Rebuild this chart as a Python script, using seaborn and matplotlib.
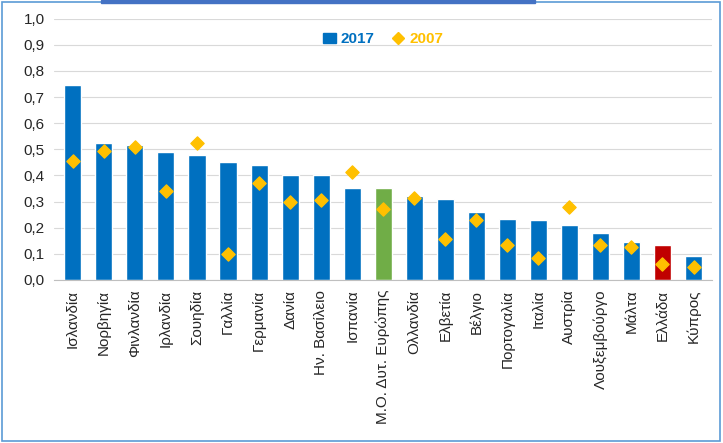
import matplotlib
matplotlib.use("Agg")
import matplotlib.pyplot as plt
import seaborn as sns
import pandas as pd
from matplotlib.patches import Rectangle, Patch
from matplotlib.lines import Line2D

countries = ["Ισλανδία", "Νορβηγία", "Φινλανδία", "Ιρλανδία", "Σουηδία", "Γαλλία",
             "Γερμανία", "Δανία", "Ην. Βασίλειο", "Ισπανία", "Μ.Ο. Δυτ. Ευρώπης",
             "Ολλανδία", "Ελβετία", "Βέλγιο", "Πορτογαλία", "Ιταλία", "Αυστρία",
             "Λουξεμβούργο", "Μάλτα", "Ελλάδα", "Κύπρος"]
v2017 = [0.745, 0.525, 0.515, 0.49, 0.48, 0.45, 0.44, 0.40, 0.40, 0.35, 0.35,
         0.32, 0.31, 0.26, 0.235, 0.23, 0.21, 0.18, 0.145, 0.135, 0.09]
v2007 = [0.455, 0.495, 0.51, 0.34, 0.525, 0.10, 0.37, 0.30, 0.305, 0.415, 0.27,
         0.315, 0.155, 0.23, 0.135, 0.085, 0.28, 0.135, 0.125, 0.06, 0.05]

df = pd.DataFrame({"country": countries, "2017": v2017, "2007": v2007})
colors = ["#0070C0"] * len(countries)
colors[countries.index("Μ.Ο. Δυτ. Ευρώπης")] = "#70AD47"
colors[countries.index("Ελλάδα")] = "#C00000"

sns.set_style("white")
plt.rcParams['font.family'] = ['Liberation Sans', 'DejaVu Sans']

fig = plt.figure(figsize=(7.23, 4.43), dpi=100)
ax = fig.add_axes([0.075, 0.368, 0.91, 0.59])
sns.barplot(data=df, x="country", y="2017", hue="country", palette=colors,
            legend=False, width=0.55, ax=ax, saturation=1)
ax.scatter(range(len(countries)), v2007, marker="D", s=45, color="#FFC000", zorder=3)

handles = [Patch(color="#0070C0"),
           Line2D([], [], marker="D", color="#FFC000", linestyle="", markersize=6)]
leg = ax.legend(handles, ["2017", "2007"], loc="upper center", bbox_to_anchor=(0.5, 1.0),
                ncol=2, frameon=False, prop={'weight': 'bold', 'size': 11},
                handlelength=0.8, columnspacing=1.2, handletextpad=0.3)
leg.get_texts()[0].set_color("#0070C0")
leg.get_texts()[1].set_color("#FFC000")

ax.set_ylim(0, 1.0)
ax.set_yticks([i / 10 for i in range(11)])
ax.set_yticklabels([f"{i/10:.1f}".replace(".", ",") for i in range(11)], fontsize=11)
ax.set_xlim(-0.6, len(countries) - 0.4)
ax.set_xlabel("")
ax.set_ylabel("")
ax.tick_params(axis="x", rotation=90, labelsize=11)
ax.grid(axis="y", color="#D9D9D9", linewidth=0.8)
ax.set_axisbelow(True)
for s in ["top", "right", "left"]:
    ax.spines[s].set_visible(False)
ax.spines["bottom"].set_color("#BFBFBF")

fig.patches.append(Rectangle((0.003, 0.005), 0.993, 0.99, transform=fig.transFigure,
                             fill=False, edgecolor="#5B9BD5", linewidth=1.2))
fig.patches.append(Rectangle((0.14, 0.993), 0.6, 0.006, transform=fig.transFigure,
                             color="#4472C4"))

fig.savefig("out.png", dpi=100)
